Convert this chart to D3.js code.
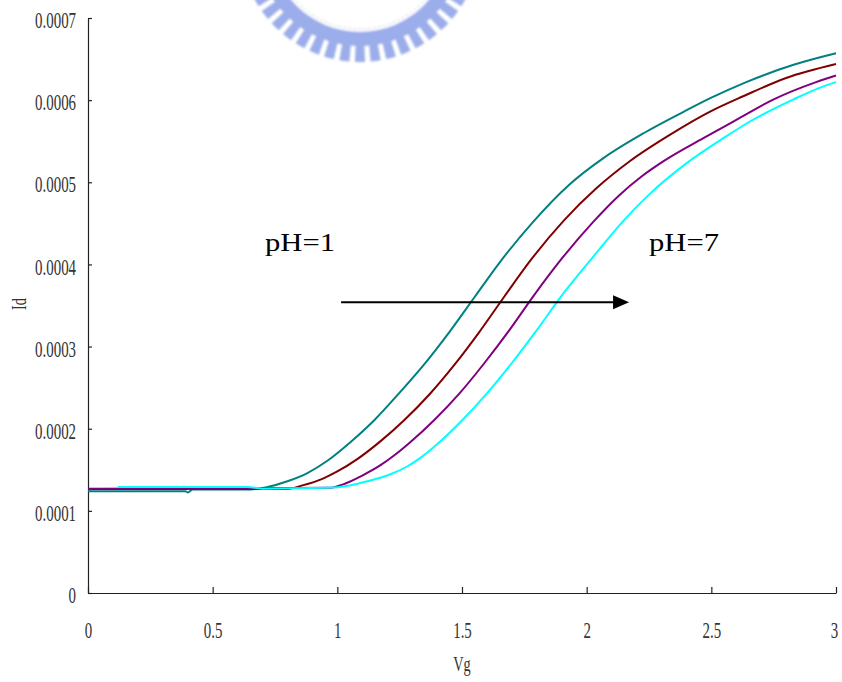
<!DOCTYPE html>
<html>
<head>
<meta charset="utf-8">
<script src="https://cdn.jsdelivr.net/npm/d3@7"></script>
<style>
  body { margin: 0; background: #fff; }
  text { font-family: "Liberation Serif", "Times New Roman", serif; }
</style>
</head>
<body>
<div id="viz"></div>
<script>
// values, Id in units of 1e-4 A
const vgTeal = [0, 0.37, 0.39, 0.40, 0.42, 0.65, 0.72, 0.80, 0.88, 0.96, 1.05, 1.15, 1.25, 1.35, 1.45, 1.55, 1.65, 1.78, 1.93, 2.07, 2.23, 2.39, 2.50, 2.64, 2.83, 3.00]
const idTeal = [1.24, 1.24, 1.24, 1.225, 1.26, 1.26, 1.29, 1.36, 1.46, 1.61, 1.83, 2.11, 2.44, 2.79, 3.18, 3.60, 4.02, 4.50, 4.97, 5.30, 5.60, 5.86, 6.03, 6.22, 6.43, 6.57].map(v => v * 1e-4)

const vgRed = [0, 0.80, 0.86, 0.94, 1.00, 1.08, 1.17, 1.27, 1.37, 1.47, 1.57, 1.67, 1.78, 1.91, 2.04, 2.17, 2.335, 2.495, 2.63, 2.80, 3.00]
const idRed = [1.267, 1.267, 1.31, 1.39, 1.48, 1.63, 1.84, 2.11, 2.42, 2.78, 3.18, 3.61, 4.07, 4.54, 4.93, 5.25, 5.58, 5.86, 6.05, 6.27, 6.44].map(v => v * 1e-4)

const vgPurple = [0, 0.97, 1.03, 1.10, 1.17, 1.23, 1.29, 1.39, 1.49, 1.59, 1.69, 1.79, 1.90, 2.03, 2.13, 2.22, 2.31, 2.47, 2.60, 2.75, 2.92, 3.00]
const idPurple = [1.27, 1.28, 1.33, 1.43, 1.55, 1.68, 1.83, 2.11, 2.43, 2.80, 3.20, 3.63, 4.07, 4.53, 4.84, 5.07, 5.26, 5.54, 5.76, 6.01, 6.22, 6.30].map(v => v * 1e-4)

const vgCyan = [0.12, 0.64, 0.70, 0.96, 1.05, 1.12, 1.20, 1.28, 1.34, 1.40, 1.50, 1.60, 1.70, 1.80, 1.90, 2.02, 2.15, 2.25, 2.40, 2.55, 2.655, 2.83, 2.96, 3.00]
const idCyan = [1.29, 1.29, 1.27, 1.28, 1.31, 1.36, 1.43, 1.54, 1.66, 1.81, 2.10, 2.43, 2.80, 3.20, 3.62, 4.07, 4.54, 4.85, 5.23, 5.54, 5.74, 6.01, 6.18, 6.22].map(v => v * 1e-4)

const xTicks = [0, 0.5, 1, 1.5, 2, 2.5, 3]
const xTickLabels = ['0', '0.5', '1', '1.5', '2', '2.5', '3']
const yTicks = [0, 0.0001, 0.0002, 0.0003, 0.0004, 0.0005, 0.0006, 0.0007]
const yTickLabels = ['0', '0.0001', '0.0002', '0.0003', '0.0004', '0.0005', '0.0006', '0.0007']

const series = [
  {name: 'teal', vg: vgTeal, id: idTeal, color: '#008080'},
  {name: 'red', vg: vgRed, id: idRed, color: '#800000'},
  {name: 'purple', vg: vgPurple, id: idPurple, color: '#800080'},
  {name: 'cyan', vg: vgCyan, id: idCyan, color: '#00ffff'},
]

let dimensions = {
  width: 842,
  height: 682,
  margin: {top: 18, right: 6, bottom: 89, left: 88},
}
dimensions.boundedWidth = dimensions.width - dimensions.margin.left - dimensions.margin.right
dimensions.boundedHeight = dimensions.height - dimensions.margin.top - dimensions.margin.bottom

const wrapper = d3.select('#viz')
  .append('svg')
  .attr('width', dimensions.width)
  .attr('height', dimensions.height)

wrapper.append('defs')
  .append('filter')
  .attr('id', 'soft')
  .append('feGaussianBlur')
  .attr('stdDeviation', 0.9)

// faint logo watermark at the top (only its lower edge shows)
const logo = wrapper.append('g')
  .attr('transform', 'translate(360,-58)')
  .attr('fill', '#9badea')
  .attr('filter', 'url(#soft)')

logo.append('path')
  .attr('d', d3.arc()({innerRadius: 90, outerRadius: 104, startAngle: 0, endAngle: 2 * Math.PI}))

const nTeeth = 48
logo.selectAll('path.tooth')
  .data(d3.range(nTeeth))
  .join('path')
  .attr('class', 'tooth')
  .attr('d', i => d3.arc()({
    innerRadius: 102,
    outerRadius: 120,
    startAngle: i * 2 * Math.PI / nTeeth - 0.042,
    endAngle: i * 2 * Math.PI / nTeeth + 0.042,
  }))

logo.append('circle')
  .attr('r', 87)
  .attr('fill', 'none')
  .attr('stroke', '#cfd1dc')
  .attr('stroke-width', 1)
  .attr('stroke-dasharray', '3,2')

const chart = wrapper.append('g')
  .attr('transform', `translate(${dimensions.margin.left},${dimensions.margin.top})`)

// scales
const xScale = d3.scaleLinear()
  .domain([0, 3])
  .range([0, dimensions.boundedWidth])

const yScale = d3.scaleLinear()
  .domain([0, 0.0007])
  .range([dimensions.boundedHeight, 0])

// axes
const xAxisGenerator = d3.axisBottom(xScale)
  .tickValues(xTicks)
  .tickFormat((d, i) => xTickLabels[i])
  .tickSizeInner(-6)
  .tickSizeOuter(0)
  .tickPadding(28)

const xAxis = chart.append('g')
  .attr('transform', `translate(0,${dimensions.boundedHeight})`)
  .call(xAxisGenerator)

const yAxisGenerator = d3.axisLeft(yScale)
  .tickValues(yTicks)
  .tickFormat((d, i) => yTickLabels[i])
  .tickSizeInner(-4)
  .tickSizeOuter(0)
  .tickPadding(12)

const yAxis = chart.append('g')
  .call(yAxisGenerator)

chart.selectAll('.domain, .tick line')
  .attr('stroke', '#222')
  .attr('stroke-width', 1.2)

chart.selectAll('.tick text')
  .attr('font-size', 24)
  .attr('font-family', '"Liberation Serif", serif')
  .attr('fill', '#333')
yAxis.selectAll('.tick text').attr('dy', '0.4em')

// labels look horizontally squeezed in the original
function squeeze(sel, k) {
  sel.each(function () {
    const w = this.getComputedTextLength()
    d3.select(this)
      .attr('textLength', w * k)
      .attr('lengthAdjust', 'spacingAndGlyphs')
  })
}
squeeze(chart.selectAll('.tick text'), 0.62)

// last x label sits on the page edge
xAxis.selectAll('.tick text').filter(d => d === 3).attr('dx', -2)

// curves
const lineGenerator = d3.line()
  .x(d => xScale(d[0]))
  .y(d => yScale(d[1]))
  .curve(d3.curveMonotoneX)

chart.selectAll('path.curve')
  .data(series)
  .join('path')
  .attr('class', 'curve')
  .attr('d', s => lineGenerator(s.vg.map((v, i) => [v, s.id[i]])))
  .attr('fill', 'none')
  .attr('stroke', s => s.color)
  .attr('stroke-width', 2)

// arrow and annotations
const arrowY = yScale(0.000354)
const arrowX0 = xScale(1.015)
const arrowX1 = xScale(2.17)

chart.append('line')
  .attr('x1', arrowX0)
  .attr('x2', arrowX1 - 14)
  .attr('y1', arrowY)
  .attr('y2', arrowY)
  .attr('stroke', '#000')
  .attr('stroke-width', 2)

chart.append('path')
  .attr('d', `M${arrowX1},${arrowY} L${arrowX1 - 16},${arrowY - 7} L${arrowX1 - 16},${arrowY + 7} Z`)
  .attr('fill', '#000')

chart.append('text')
  .attr('x', xScale(0.71))
  .attr('y', yScale(0.0004166))
  .attr('font-size', 26)
  .attr('textLength', 70)
  .attr('lengthAdjust', 'spacingAndGlyphs')
  .text('pH=1')

chart.append('text')
  .attr('x', xScale(2.25))
  .attr('y', yScale(0.0004166))
  .attr('font-size', 26)
  .attr('textLength', 70)
  .attr('lengthAdjust', 'spacingAndGlyphs')
  .text('pH=7')

// axis titles
const xTitle = chart.append('text')
  .attr('x', xScale(1.5))
  .attr('y', dimensions.boundedHeight + 78)
  .attr('text-anchor', 'middle')
  .attr('font-size', 22)
  .attr('fill', '#333')
  .text('Vg')

const yTitle = wrapper.append('text')
  .attr('transform', 'translate(26,304) rotate(-90)')
  .attr('text-anchor', 'middle')
  .attr('font-size', 22)
  .attr('fill', '#333')
  .text('Id')

squeeze(xTitle, 0.65)
squeeze(yTitle, 0.65)
</script>
</body>
</html>
